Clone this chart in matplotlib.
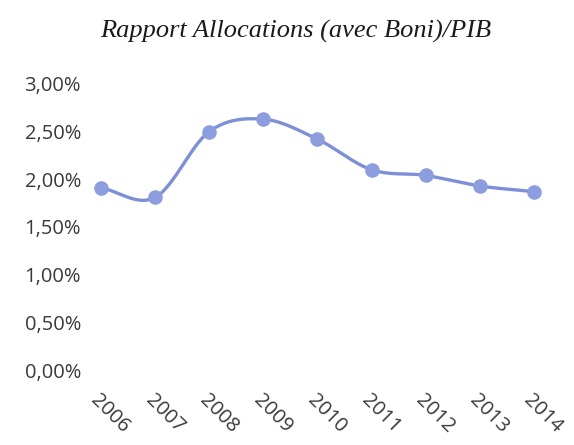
import numpy as np
import matplotlib
matplotlib.use("Agg")
import matplotlib.pyplot as plt
from matplotlib.ticker import FuncFormatter

years = ["2006", "2007", "2008", "2009", "2010", "2011", "2012", "2013", "2014"]
ratio = [1.91, 1.81, 2.50, 2.63, 2.42, 2.10, 2.04, 1.93, 1.87]  # % of GDP

line_color = "#7d8fd6"
marker_color = "#8c9ee0"


def catmull_rom(x, y, n=30):
    # smoothed line like Excel's "smooth line" option
    x = np.asarray(x, float)
    y = np.asarray(y, float)
    px = np.concatenate([[2 * x[0] - x[1]], x, [2 * x[-1] - x[-2]]])
    py = np.concatenate([[2 * y[0] - y[1]], y, [2 * y[-1] - y[-2]]])
    xs, ys = [], []
    t = np.linspace(0, 1, n)
    for i in range(1, len(px) - 2):
        for p, out in ((px, xs), (py, ys)):
            p0, p1, p2, p3 = p[i - 1], p[i], p[i + 1], p[i + 2]
            out.extend(0.5 * ((2 * p1) + (-p0 + p2) * t
                              + (2 * p0 - 5 * p1 + 4 * p2 - p3) * t ** 2
                              + (-p0 + 3 * p1 - 3 * p2 + p3) * t ** 3))
    return np.array(xs), np.array(ys)


x = np.arange(len(years))
sx, sy = catmull_rom(x, ratio)

fig = plt.figure(figsize=(5.74, 4.45), dpi=100)
ax = fig.add_axes([0.129, 0.1685, 0.848, 0.643])

ax.plot(sx, sy, color=line_color, lw=2.4, solid_capstyle="round", zorder=2)
ax.plot(x, ratio, "o", color=marker_color, ms=9.5, mec=marker_color, zorder=3)

ax.set_xlim(-0.5, len(years) - 0.5)
ax.set_ylim(0, 3)
ax.set_yticks(np.arange(0, 3.01, 0.5))
ax.yaxis.set_major_formatter(FuncFormatter(lambda v, p: f"{v:.2f}%".replace(".", ",")))
ax.set_xticks(x)
ax.set_xticklabels(years, rotation=-45, ha="left", va="top", rotation_mode="anchor")

for s in ax.spines.values():
    s.set_visible(False)
ax.tick_params(length=0, colors="#3a3a3a", labelsize=14.5)
ax.tick_params(axis="x", pad=15)
ax.tick_params(axis="y", pad=-5)
for lab in ax.get_xticklabels() + ax.get_yticklabels():
    lab.set_fontfamily("Open Sans")

fig.text(0.515, 0.93, "Rapport Allocations (avec Boni)/PIB", ha="center", va="center",
         fontsize=19, style="italic", family="Liberation Serif", color="#1a1a1a")

fig.savefig("out.png", dpi=100)
